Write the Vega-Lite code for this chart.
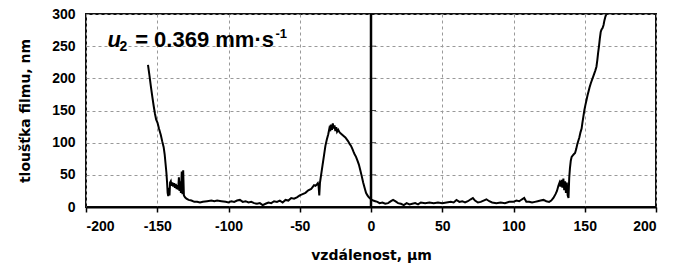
{
  "$schema": "https://vega.github.io/schema/vega-lite/v6.json",
  "autosize": "none",
  "width": 570,
  "height": 193,
  "padding": {"left": 86, "top": 14, "right": 19, "bottom": 62},
  "background": "white",
  "config": {
    "view": {"stroke": "#111", "strokeWidth": 2},
    "axis": {
      "labelFont": "Liberation Sans",
      "labelFontWeight": "bold",
      "labelFontSize": 14,
      "labelColor": "#000",
      "labelOverlap": false,
      "titleFont": "DejaVu Sans",
      "titleFontWeight": "bold",
      "titleFontSize": 14,
      "titleColor": "#000",
      "gridColor": "#999",
      "gridDash": [3, 3],
      "gridWidth": 1,
      "gridOpacity": 1
    },
    "axisY": {"tickCount": 7, "ticks": false, "domain": false, "labelPadding": 11, "titlePadding": 19, "labelOverlap": false},
    "axisX": {"labelExpr": "'' + datum.value", "tickColor": "#000", "tickSize": 5, "tickWidth": 1.5, "domainColor": "#000", "domainWidth": 2, "labelPadding": 7, "titlePadding": 15}
  },
  "data": {
    "values": [
      {"x": -156.5, "y": 221}, {"x": -155.5, "y": 205}, {"x": -154.5, "y": 188}, {"x": -153.5, "y": 172},
      {"x": -152.5, "y": 157}, {"x": -151.6, "y": 145}, {"x": -150.8, "y": 136}, {"x": -149.8, "y": 131},
      {"x": -148.8, "y": 122}, {"x": -147.5, "y": 112}, {"x": -146.5, "y": 102}, {"x": -145.5, "y": 93},
      {"x": -144.8, "y": 82}, {"x": -144.2, "y": 68}, {"x": -143.6, "y": 54}, {"x": -143.1, "y": 38},
      {"x": -142.7, "y": 22}, {"x": -142.3, "y": 17}, {"x": -141.8, "y": 30}, {"x": -141.4, "y": 18},
      {"x": -141.0, "y": 38}, {"x": -140.5, "y": 40}, {"x": -140.0, "y": 33}, {"x": -139.4, "y": 38},
      {"x": -138.8, "y": 32}, {"x": -138.2, "y": 37}, {"x": -137.6, "y": 30}, {"x": -137.0, "y": 36},
      {"x": -136.4, "y": 28}, {"x": -135.9, "y": 34}, {"x": -135.3, "y": 27}, {"x": -134.8, "y": 46},
      {"x": -134.4, "y": 25}, {"x": -133.9, "y": 40}, {"x": -133.4, "y": 22}, {"x": -132.8, "y": 55},
      {"x": -132.3, "y": 20}, {"x": -131.8, "y": 57}, {"x": -131.3, "y": 18}, {"x": -130.5, "y": 15},
      {"x": -129.5, "y": 13}, {"x": -128, "y": 11}, {"x": -126, "y": 10}, {"x": -124, "y": 8},
      {"x": -122, "y": 8}, {"x": -120, "y": 7}, {"x": -118, "y": 8}, {"x": -115, "y": 9},
      {"x": -112, "y": 10}, {"x": -110, "y": 9}, {"x": -108, "y": 10}, {"x": -105, "y": 9},
      {"x": -102, "y": 8}, {"x": -100, "y": 7}, {"x": -98, "y": 9}, {"x": -96, "y": 8},
      {"x": -94, "y": 10}, {"x": -92, "y": 11}, {"x": -90, "y": 8}, {"x": -88, "y": 9},
      {"x": -86, "y": 7}, {"x": -84, "y": 8}, {"x": -82, "y": 6}, {"x": -80, "y": 5},
      {"x": -78, "y": 6}, {"x": -76, "y": 3}, {"x": -74, "y": 5}, {"x": -72, "y": 7},
      {"x": -70, "y": 6}, {"x": -68, "y": 9}, {"x": -66, "y": 8}, {"x": -64, "y": 10},
      {"x": -62, "y": 7}, {"x": -60, "y": 11}, {"x": -58, "y": 10}, {"x": -56, "y": 14},
      {"x": -54, "y": 13}, {"x": -52, "y": 15}, {"x": -50, "y": 18}, {"x": -48, "y": 20},
      {"x": -46, "y": 22}, {"x": -44, "y": 26}, {"x": -42, "y": 28}, {"x": -41, "y": 31},
      {"x": -40, "y": 34}, {"x": -39, "y": 33}, {"x": -38, "y": 35}, {"x": -37.3, "y": 37},
      {"x": -36.8, "y": 33}, {"x": -36.3, "y": 18}, {"x": -35.8, "y": 38}, {"x": -35, "y": 50},
      {"x": -34, "y": 65}, {"x": -33, "y": 80}, {"x": -32, "y": 95}, {"x": -31, "y": 105},
      {"x": -30, "y": 113}, {"x": -29.2, "y": 122}, {"x": -28.6, "y": 118}, {"x": -28, "y": 128},
      {"x": -27.4, "y": 120}, {"x": -26.8, "y": 130}, {"x": -26.2, "y": 122}, {"x": -25.6, "y": 127},
      {"x": -25, "y": 118}, {"x": -24.4, "y": 124}, {"x": -23.8, "y": 117}, {"x": -23, "y": 120},
      {"x": -22, "y": 116}, {"x": -21, "y": 114}, {"x": -20, "y": 112}, {"x": -19, "y": 110},
      {"x": -18, "y": 108}, {"x": -17, "y": 105}, {"x": -16, "y": 102}, {"x": -15, "y": 98},
      {"x": -14, "y": 95}, {"x": -13, "y": 90}, {"x": -12.3, "y": 86}, {"x": -11.5, "y": 82},
      {"x": -10.5, "y": 78}, {"x": -9.5, "y": 72}, {"x": -8.5, "y": 66}, {"x": -7.5, "y": 57},
      {"x": -6.5, "y": 48}, {"x": -5.5, "y": 38}, {"x": -4.5, "y": 30}, {"x": -3.5, "y": 22},
      {"x": -2.5, "y": 18}, {"x": -1.5, "y": 15}, {"x": 0, "y": 12}, {"x": 1.5, "y": 10},
      {"x": 3, "y": 9}, {"x": 4.5, "y": 8}, {"x": 6, "y": 6}, {"x": 8, "y": 7},
      {"x": 10, "y": 5}, {"x": 12, "y": 6}, {"x": 14, "y": 9}, {"x": 15.5, "y": 11},
      {"x": 17, "y": 9}, {"x": 19, "y": 6}, {"x": 21, "y": 5}, {"x": 23, "y": 3},
      {"x": 25, "y": 6}, {"x": 27, "y": 4}, {"x": 29, "y": 5}, {"x": 31, "y": 6},
      {"x": 33, "y": 4}, {"x": 35, "y": 7}, {"x": 38, "y": 6}, {"x": 41, "y": 7},
      {"x": 44, "y": 6}, {"x": 47, "y": 7}, {"x": 50, "y": 6}, {"x": 53, "y": 7},
      {"x": 56, "y": 8}, {"x": 58, "y": 7}, {"x": 60, "y": 11}, {"x": 62, "y": 8},
      {"x": 64, "y": 9}, {"x": 66, "y": 7}, {"x": 68, "y": 9}, {"x": 70, "y": 12},
      {"x": 71.5, "y": 14}, {"x": 73, "y": 10}, {"x": 75, "y": 7}, {"x": 77, "y": 8},
      {"x": 79, "y": 10}, {"x": 81, "y": 12}, {"x": 83, "y": 9}, {"x": 85, "y": 7},
      {"x": 88, "y": 6}, {"x": 91, "y": 7}, {"x": 94, "y": 6}, {"x": 97, "y": 8},
      {"x": 100, "y": 8}, {"x": 102, "y": 10}, {"x": 104, "y": 9}, {"x": 106, "y": 12},
      {"x": 107.5, "y": 14}, {"x": 109, "y": 8}, {"x": 111, "y": 8}, {"x": 113, "y": 7},
      {"x": 115, "y": 8}, {"x": 117, "y": 9}, {"x": 119, "y": 10}, {"x": 121, "y": 11},
      {"x": 123, "y": 9}, {"x": 125, "y": 8}, {"x": 126.5, "y": 10}, {"x": 128, "y": 14},
      {"x": 129.5, "y": 20}, {"x": 130.5, "y": 25}, {"x": 131.5, "y": 33}, {"x": 132.3, "y": 38},
      {"x": 133, "y": 32}, {"x": 133.7, "y": 42}, {"x": 134.3, "y": 30}, {"x": 135, "y": 44},
      {"x": 135.6, "y": 26}, {"x": 136.2, "y": 40}, {"x": 136.8, "y": 22}, {"x": 137.4, "y": 38},
      {"x": 138, "y": 18}, {"x": 138.6, "y": 14}, {"x": 139.1, "y": 45}, {"x": 139.6, "y": 60},
      {"x": 140.2, "y": 72}, {"x": 140.8, "y": 78}, {"x": 141.5, "y": 80}, {"x": 142.3, "y": 82},
      {"x": 143.2, "y": 84}, {"x": 144, "y": 90}, {"x": 144.8, "y": 98}, {"x": 145.5, "y": 103},
      {"x": 146.2, "y": 108}, {"x": 147, "y": 116}, {"x": 147.8, "y": 122}, {"x": 148.3, "y": 130},
      {"x": 149, "y": 140}, {"x": 149.7, "y": 150}, {"x": 150.4, "y": 158}, {"x": 151.2, "y": 166},
      {"x": 152, "y": 174}, {"x": 152.7, "y": 180}, {"x": 153.4, "y": 186}, {"x": 154.2, "y": 192},
      {"x": 155, "y": 197}, {"x": 155.8, "y": 202}, {"x": 156.6, "y": 207}, {"x": 157.4, "y": 212},
      {"x": 158.2, "y": 218}, {"x": 158.8, "y": 228}, {"x": 159.4, "y": 240}, {"x": 160, "y": 250},
      {"x": 160.6, "y": 262}, {"x": 161.2, "y": 272}, {"x": 161.8, "y": 276}, {"x": 162.5, "y": 278},
      {"x": 163.2, "y": 283}, {"x": 163.8, "y": 290}, {"x": 164.5, "y": 296}, {"x": 165, "y": 299}
    ]
  },
  "encoding": {
    "x": {
      "type": "quantitative",
      "scale": {"domain": [-200, 200], "nice": false},
      "axis": {"values": [-200, -150, -100, -50, 0, 50, 100, 150, 200], "title": "vzdálenost, µm"}
    },
    "y": {
      "type": "quantitative",
      "scale": {"domain": [0, 300], "nice": false},
      "axis": {"title": "tloušťka filmu, nm"}
    }
  },
  "layer": [
    {
      "mark": {"type": "line", "color": "#000", "strokeWidth": 2, "clip": true},
      "encoding": {"x": {"field": "x"}, "y": {"field": "y"}}
    },
    {
      "data": {"values": [{"pos": 0}]},
      "mark": {"type": "rule", "color": "#000", "strokeWidth": 2.5},
      "encoding": {"x": {"field": "pos"}, "y": null}
    },
    {
      "data": {"values": [{"pos": 0, "t": 50}, {"pos": 0, "t": 100}, {"pos": 0, "t": 150}, {"pos": 0, "t": 200}, {"pos": 0, "t": 250}]},
      "mark": {"type": "tick", "orient": "horizontal", "color": "#000", "size": 5, "thickness": 1, "xOffset": 2.5},
      "encoding": {"x": {"field": "pos"}, "y": {"field": "t"}}
    },
    {
      "data": {"values": [{"px": -185, "py": 248, "label": "u"}]},
      "mark": {"type": "text", "font": "Liberation Sans", "fontWeight": "bold", "fontStyle": "italic", "fontSize": 22, "align": "left", "baseline": "alphabetic", "color": "#000"},
      "encoding": {"x": {"field": "px"}, "y": {"field": "py"}, "text": {"field": "label"}}
    },
    {
      "data": {"values": [{"px": -176.5, "py": 243, "label": "2"}]},
      "mark": {"type": "text", "font": "Liberation Sans", "fontWeight": "bold", "fontSize": 14, "align": "left", "baseline": "alphabetic", "color": "#000"},
      "encoding": {"x": {"field": "px"}, "y": {"field": "py"}, "text": {"field": "label"}}
    },
    {
      "data": {"values": [{"px": -165.5, "py": 248, "label": "= 0.369 mm·s"}]},
      "mark": {"type": "text", "font": "Liberation Sans", "fontWeight": "bold", "fontSize": 22, "align": "left", "baseline": "alphabetic", "color": "#000"},
      "encoding": {"x": {"field": "px"}, "y": {"field": "py"}, "text": {"field": "label"}}
    },
    {
      "data": {"values": [{"px": -67, "py": 262, "label": "-1"}]},
      "mark": {"type": "text", "font": "Liberation Sans", "fontWeight": "bold", "fontSize": 13, "align": "left", "baseline": "alphabetic", "color": "#000"},
      "encoding": {"x": {"field": "px"}, "y": {"field": "py"}, "text": {"field": "label"}}
    }
  ]
}
